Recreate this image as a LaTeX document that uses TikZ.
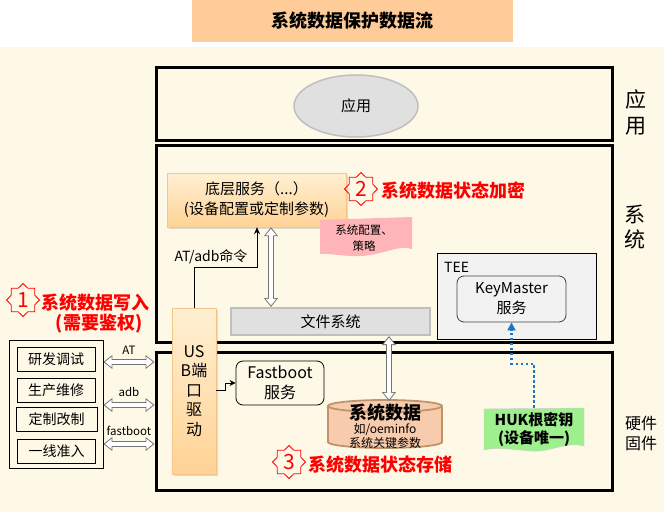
\documentclass[tikz,border=0pt]{standalone}
\usepackage{fontspec}
\setmainfont{Noto Sans CJK SC}
\usetikzlibrary{arrows.meta, shapes.geometric, shadows}
\definecolor{cream}{HTML}{FEF8E7}
\definecolor{titleor}{HTML}{FFCC99}
\definecolor{lgray}{HTML}{E0E0E0}
\definecolor{mgray}{HTML}{BFBFBF}
\definecolor{teegray}{HTML}{F2F2F2}
\definecolor{pinknote}{HTML}{FFB5B8}
\definecolor{greennote}{HTML}{9EF08E}
\definecolor{cylfill}{HTML}{F8CBAD}
\definecolor{cylline}{HTML}{C0946A}
\definecolor{hukblue}{HTML}{1F77C4}
\definecolor{orlight}{HTML}{FFF0D2}
\definecolor{ordark}{HTML}{FFD295}
\definecolor{orline}{HTML}{F5C58A}
\newcommand{\fsz}[2]{\fontsize{#1}{#2}\selectfont}

\begin{document}
\begin{tikzpicture}[x=1pt, y=-1pt,
  layer/.style={draw, line width=3pt},
  orbox/.style={draw=orline, top color=orlight, bottom color=ordark,
    drop shadow={opacity=0.25, shadow xshift=2pt, shadow yshift=-2pt}},
  svc/.style={draw, rounded corners=7pt, line width=0.8pt, align=center, font=\fsz{15}{20}},
  entry/.style={draw, line width=0.8pt, minimum width=78pt, minimum height=24pt, inner sep=0, font=\fsz{14}{16}},
  numstar/.style={star, star points=8, star point ratio=1.3, draw=red, line width=0.8pt,
    minimum size=33pt, inner sep=0, text=red, font=\fsz{21}{22}},
  redtxt/.style={text=red, font=\fsz{18}{22}\bfseries, inner sep=1pt},
  dbl/.style={draw=white, line width=4pt, shorten >=1.6pt, shorten <=1.6pt,
    {Triangle[length=6.5pt, width=10pt]}-{Triangle[length=6.5pt, width=10pt]},
    preaction={draw=black!55, line width=6pt, shorten >=0pt, shorten <=0pt,
      {Triangle[length=9pt, width=13.5pt]}-{Triangle[length=9pt, width=13.5pt]}}},
  lbl/.style={font=\fsz{11.5}{13}, inner sep=0},
  side/.style={align=center, inner sep=0},
  cyl/.style={fill=cylfill, draw=cylline, line width=1.8pt},
  hukline/.style={draw=hukblue, line width=2.5pt, dash pattern=on 2.5pt off 2.5pt,
    -{Triangle[length=8pt, width=8pt]}}]
\useasboundingbox (0,0) rectangle (672,514);
\fill[cream] (0,47) rectangle (664,512);
\node[fill=titleor, minimum width=321pt, minimum height=42pt, font=\fsz{18}{22}\bfseries] (title) at (352.5,21) {系统数据保护数据流};

\node[layer, minimum width=456pt, minimum height=73pt] (app) at (384,103.5) {};
\node[layer, minimum width=456pt, minimum height=197pt] (sys) at (384,243.5) {};
\node[layer, minimum width=456pt, minimum height=138pt] (hw) at (384,421) {};
\node[side, font=\fsz{21}{26}] (lapp) at (636,112) {应\\用};
\node[side, font=\fsz{21}{25}] (lsys) at (635,227) {系\\统};
\node[side, font=\fsz{16}{20}] (lhw) at (641,433) {硬件\\固件};

\node[ellipse, fill=lgray, draw=mgray, line width=1.5pt, minimum width=124pt, minimum height=62pt, inner sep=0, font=\fsz{15}{18}] (appnode) at (356,106) {应用};

\node[orbox, minimum width=179pt, minimum height=54pt, align=center, font=\fsz{15}{20}] (base) at (256.5,200) {底层服务（...）\\(设备配置或定制参数)};
\fill[pinknote] (320,220) -- (412,217) -- (412,249) .. controls (395,244) and (380,258) .. (350,256) .. controls (335,255) and (325,253) .. (320,254) -- cycle;
\node[align=center, font=\fsz{11.5}{16}] (policy) at (364,238) {系统配置、\\策略};
\node[numstar] (n2) at (361,189) {2};
\node[redtxt, anchor=west] (t2) at (380,191) {系统数据状态加密};

\node[fill=lgray, draw=mgray, line width=2pt, minimum width=199pt, minimum height=27pt, font=\fsz{15}{18}] (fs) at (330.5,321.5) {文件系统};
\node[fill=teegray, draw, line width=0.8pt, minimum width=159pt, minimum height=86pt] (tee) at (516.5,296) {};
\node[anchor=west, inner sep=0, font=\fsz{14}{16}] (teelbl) at (444,267) {TEE};
\node[svc, fill=teegray, draw=black!75, minimum width=109pt, minimum height=46pt] (km) at (511.5,299) {KeyMaster\\服务};

\node[orbox, minimum width=44pt, minimum height=166pt, align=center, inner sep=0, font=\fsz{16}{19.5}] (usb) at (194,391) {US\\B端\\口\\驱\\动};
\node[svc, fill=cream, minimum width=88pt, minimum height=44pt, font=\fsz{16}{20}] (fb) at (280,383) {Fastboot\\服务};

\filldraw[cyl] (328,406) -- (328,442) arc(180:0:57 and 6) -- (442,406) arc(0:-180:57 and 6) -- cycle;
\draw[cyl, fill=none] (328,406) arc(180:0:57 and 6);
\coordinate (sdtop) at (389,401);
\node[font=\fsz{18}{20}\bfseries, inner sep=0] (sdt) at (385,413) {系统数据};
\node[font=\fsz{12}{14}, inner sep=0] (sdm) at (385,430) {如/oeminfo};
\node[font=\fsz{12}{14}, inner sep=0] (sdk) at (385,443) {系统关键参数};
\node[numstar] (n3) at (289,462) {3};
\node[redtxt, anchor=west] (t3) at (307,465) {系统数据状态存储};

\node[numstar] (n1) at (23,300) {1};
\node[redtxt, anchor=west] (t1) at (40,303) {系统数据写入};
\node[redtxt] (t1b) at (99,324) {(需要鉴权)};
\node[draw, line width=0.8pt, minimum width=94pt, minimum height=128pt] (users) at (56,404) {};
\node[entry] (rd) at (56,359) {研发调试};
\node[entry] (sc) at (56,390) {生产维修};
\node[entry, minimum width=81pt] (dz) at (56.5,419.5) {定制改制};
\node[entry] (yx) at (56.5,451) {一线准入};

\filldraw[fill=greennote, draw=black!20] (484,409) -- (584,408) -- (584,446) .. controls (565,441) and (550,453) .. (530,451) .. controls (510,449) and (495,447) .. (484,450) -- cycle;
\node[align=center, minimum height=42pt, inner sep=0, font=\fsz{15}{18}\bfseries] (huk) at (534,429) {HUK根密钥\\(设备唯一)};

\draw[dbl] (users.east |- 0,362) -- (hw.west |- 0,362) node[midway, above=6pt, lbl, text=black] {AT};
\draw[dbl] (users.east |- 0,405) -- (hw.west |- 0,405) node[midway, above=6pt, lbl, text=black] {adb};
\draw[dbl] (users.east |- 0,444) -- (hw.west |- 0,444) node[midway, above=6pt, lbl, text=black] {fastboot};
\draw[-{Stealth[length=7pt, width=6pt]}, line width=0.8pt] (usb.north) -- (usb.north |- 0,267) -| (base.south -| 257,0);
\node[font=\fsz{14}{16}] (atcmd) at (211,257) {AT/adb命令};
\draw[-{Stealth[length=6pt, width=6pt]}, line width=0.8pt] (usb.east |- 0,390) -- (225,390) |- (fb.west);
\draw[dbl] (base.south -| 271,0) -- (fs.north -| 271,0);
\draw[dbl] (fs.south -| 389,0) -- (sdtop);
\draw[hukline] (huk.north) -- ++(0,-44) -| (km.south);
\end{tikzpicture}
\end{document}
